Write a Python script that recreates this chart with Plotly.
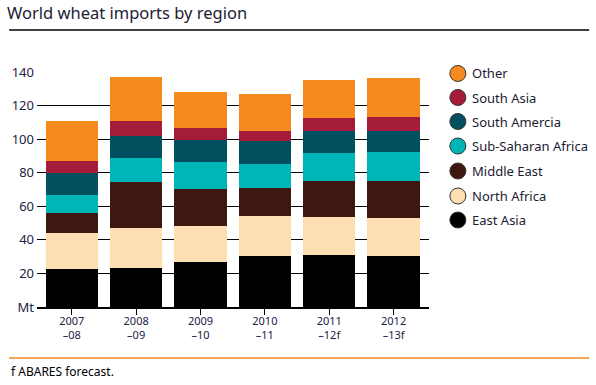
import plotly.graph_objects as go

categories = ["2007<br>–08", "2008<br>–09", "2009<br>–10", "2010<br>–11", "2011<br>–12f", "2012<br>–13f"]

east_asia = [22.7, 23.3, 26.8, 30.4, 31.0, 30.4]
north_africa = [21.4, 23.8, 21.5, 23.9, 22.7, 22.7]
middle_east = [12.0, 27.5, 22.1, 16.7, 21.5, 22.1]
sub_saharan_africa = [10.7, 14.3, 16.1, 14.3, 16.7, 17.3]
south_america = [13.1, 13.1, 13.1, 13.3, 13.1, 12.5]
south_asia = [7.2, 9.0, 7.2, 6.4, 7.7, 8.3]
other = [23.9, 26.2, 21.5, 22.1, 22.7, 23.3]

series_names = ["East Asia", "North Africa", "Middle East", "Sub-Saharan Africa",
                "South Amercia", "South Asia", "Other"]
series_values = [east_asia, north_africa, middle_east, sub_saharan_africa,
                 south_america, south_asia, other]
series_colors = ["#000000", "#FEDFB2", "#3E1810", "#00B5B8", "#01505F", "#A51C3A", "#F58A1F"]

y_tick_vals = [0, 20, 40, 60, 80, 100, 120, 140]
y_tick_text = ["Mt", "20", "40", "60", "80", "100", "120", "140"]

FONT = "Noto Sans"
TXT = "#222244"

# plot-area geometry in pixels (used to place paper-referenced decorations)
L, R, T, B = 35, 429, 72, 307
W, H = R - L, B - T


def px_x(px):
    return (px - L) / W


def px_y(py):
    return (B - py) / H


fig = go.Figure()
for name, vals, col in zip(series_names, series_values, series_colors):
    fig.add_trace(go.Bar(x=categories, y=vals, name=name, marker=dict(color=col, line=dict(width=0)),
                         showlegend=False))

# custom legend: circles + labels, top-down
legend_rows = [73.5, 97.5, 121.5, 146, 171, 196, 220]
shapes = [
    dict(type="line", xref="paper", yref="paper", x0=px_x(7), x1=px_x(590),
         y0=px_y(30), y1=px_y(30), line=dict(color="black", width=1.5)),
    dict(type="line", xref="paper", yref="paper", x0=px_x(7), x1=px_x(590),
         y0=px_y(358), y1=px_y(358), line=dict(color="#F58A1F", width=1.5)),
]
annotations = [
    dict(text="f ABARES forecast.", xref="paper", yref="paper", x=px_x(7), xanchor="left",
         y=px_y(371), yanchor="middle", showarrow=False,
         font=dict(family=FONT, size=12, color="black")),
]
for row, (name, col) in zip(legend_rows, reversed(list(zip(series_names, series_colors)))):
    shapes.append(dict(type="circle", xref="paper", yref="paper",
                       xsizemode="pixel", ysizemode="pixel",
                       xanchor=px_x(458), yanchor=px_y(row),
                       x0=-8, x1=8, y0=-8, y1=8,
                       fillcolor=col, line=dict(color="#333333", width=1)))
    annotations.append(dict(text=name, xref="paper", yref="paper", x=px_x(470), xanchor="left",
                            y=px_y(row), yanchor="middle", showarrow=False,
                            font=dict(family=FONT, size=13, color="#1b1b33")))

fig.update_layout(
    width=596, height=385,
    margin=dict(l=L, r=596 - R, t=T, b=385 - B),
    paper_bgcolor="white", plot_bgcolor="white",
    barmode="stack", bargap=0.186,
    font=dict(family=FONT, color=TXT, size=12),
    title=dict(text="World wheat imports by region", x=7/596, xref="container", xanchor="left",
               y=1 - 13/385, yref="container", yanchor="middle",
               font=dict(family=FONT, size=16.5, color="#1b1b33")),
    showlegend=False,
    xaxis=dict(range=[-0.54, 5.55], showline=True, linecolor="black", linewidth=1.5,
               ticks="outside", ticklen=6, tickcolor="black", tickwidth=1,
               showgrid=False, tickfont=dict(size=11, color=TXT), ticklabelstandoff=-3,
               fixedrange=True),
    yaxis=dict(range=[0, 140], tickvals=y_tick_vals, ticktext=y_tick_text,
               showgrid=True, gridcolor="black", gridwidth=1, zeroline=False,
               showline=False, ticks="", tickfont=dict(size=13, color=TXT), ticklabelstandoff=2,
               fixedrange=True),
    shapes=shapes,
    annotations=annotations,
)

fig.write_html("out.html", config={"displayModeBar": False},
               post_script="document.body.style.margin='0';document.body.style.padding='0';")
